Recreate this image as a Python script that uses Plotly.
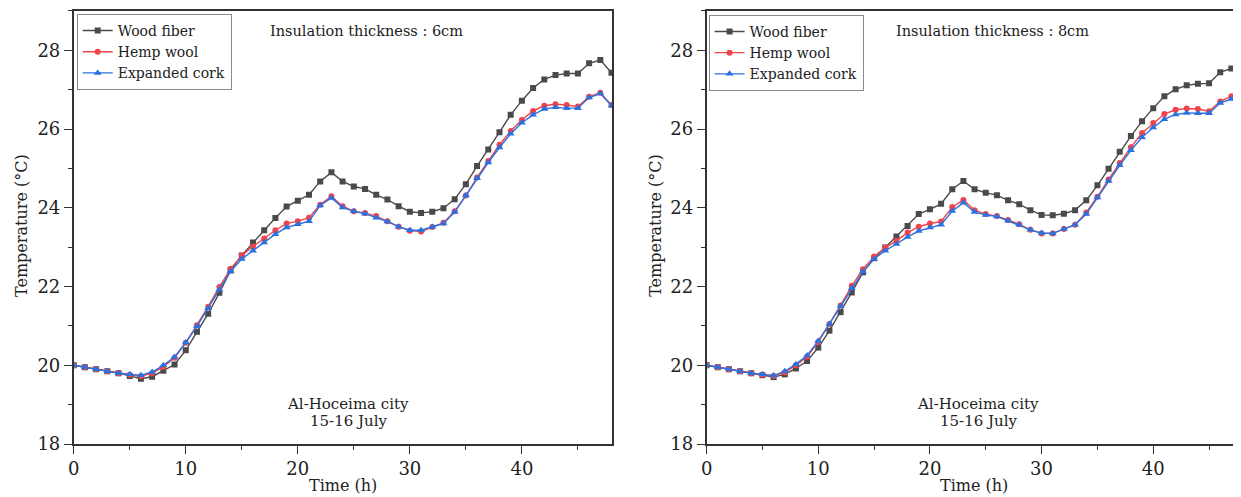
import plotly.graph_objects as go

hours = list(range(49))

# Insulation thickness 6 cm
wood_6 = [20.0, 19.95, 19.9, 19.85, 19.8, 19.73, 19.66, 19.71, 19.86, 20.02,
          20.38, 20.85, 21.31, 21.84, 22.41, 22.79, 23.12, 23.43, 23.74, 24.03,
          24.18, 24.33, 24.67, 24.9, 24.67, 24.54, 24.48, 24.33, 24.21, 24.04,
          23.9, 23.87, 23.9, 23.99, 24.22, 24.6, 25.06, 25.48, 25.92, 26.36,
          26.72, 27.04, 27.26, 27.37, 27.41, 27.41, 27.67, 27.75, 27.43]
hemp_6 = [20.0, 19.95, 19.9, 19.85, 19.8, 19.76, 19.72, 19.8, 19.96, 20.19,
          20.57, 21.02, 21.49, 21.99, 22.45, 22.79, 23.02, 23.22, 23.43, 23.6,
          23.66, 23.75, 24.08, 24.29, 24.04, 23.91, 23.87, 23.79, 23.66, 23.52,
          23.42, 23.4, 23.51, 23.62, 23.91, 24.31, 24.77, 25.19, 25.6, 25.95,
          26.23, 26.46, 26.59, 26.63, 26.61, 26.57, 26.82, 26.92, 26.61]
cork_6 = [20.0, 19.95, 19.9, 19.85, 19.8, 19.77, 19.75, 19.83, 20.0, 20.21,
          20.58, 20.99, 21.45, 21.92, 22.39, 22.7, 22.91, 23.12, 23.33, 23.5,
          23.58, 23.66, 24.06, 24.25, 24.01, 23.91, 23.85, 23.75, 23.65, 23.52,
          23.43, 23.43, 23.51, 23.6, 23.89, 24.31, 24.75, 25.15, 25.53, 25.88,
          26.16, 26.36, 26.51, 26.55, 26.53, 26.53, 26.8, 26.9, 26.59]

# Insulation thickness 8 cm
wood_8 = [20.0, 19.95, 19.9, 19.85, 19.8, 19.75, 19.7, 19.77, 19.92, 20.11,
          20.45, 20.88, 21.35, 21.85, 22.36, 22.72, 22.99, 23.27, 23.54, 23.84,
          23.96, 24.1, 24.47, 24.68, 24.47, 24.38, 24.32, 24.19, 24.09, 23.94,
          23.82, 23.81, 23.85, 23.94, 24.19, 24.57, 24.99, 25.42, 25.82, 26.2,
          26.53, 26.83, 27.01, 27.11, 27.15, 27.16, 27.44, 27.54, 27.3]
hemp_8 = [20.0, 19.95, 19.9, 19.85, 19.8, 19.76, 19.73, 19.82, 20.0, 20.22,
          20.59, 21.05, 21.52, 22.02, 22.44, 22.76, 22.99, 23.16, 23.37, 23.52,
          23.6, 23.65, 24.02, 24.2, 23.94, 23.84, 23.79, 23.69, 23.58, 23.44,
          23.35, 23.35, 23.46, 23.57, 23.88, 24.28, 24.72, 25.14, 25.54, 25.9,
          26.15, 26.38, 26.49, 26.52, 26.51, 26.45, 26.7, 26.83, 26.6]
cork_8 = [20.0, 19.95, 19.9, 19.85, 19.8, 19.77, 19.74, 19.85, 20.03, 20.25,
          20.62, 21.05, 21.5, 21.96, 22.38, 22.7, 22.91, 23.08, 23.26, 23.41,
          23.5, 23.57, 23.92, 24.13, 23.89, 23.82, 23.78, 23.67, 23.57, 23.44,
          23.36, 23.35, 23.46, 23.57, 23.84, 24.26, 24.68, 25.08, 25.46, 25.79,
          26.04, 26.25, 26.37, 26.41, 26.4, 26.4, 26.66, 26.76, 26.58]

series_names = ["Wood fiber", "Hemp wool", "Expanded cork"]
colors = ["#4a4a4a", "#f0434a", "#2a72e0"]
symbols = ["square", "circle", "triangle-up"]
msizes = [6, 6, 7]

titles = ["Insulation thickness : 6cm", "Insulation thickness : 8cm"]
place_lines = ["Al-Hoceima city", "15-16 July"]
x_title = "Time (h)"
y_title = "Temperature (°C)"

FONT = "DejaVu Serif"
OFF_X = 11
W, H = 1241 - 8, 497

fig = go.Figure()

panels = [
    ([wood_6, hemp_6, cork_6], "x", "y", "legend"),
    ([wood_8, hemp_8, cork_8], "x2", "y2", "legend2"),
]
for data, xa, ya, lg in panels:
    for name, vals, c, s, ms in zip(series_names, data, colors, symbols, msizes):
        fig.add_trace(go.Scatter(
            x=hours, y=vals, name=name, mode="lines+markers",
            line=dict(color=c, width=1.4),
            marker=dict(symbol=s, size=ms, color=c),
            xaxis=xa, yaxis=ya, legend=lg,
        ))


def px_x(p):
    return (p - OFF_X) / W


def px_y(p):
    # empirical page -> figure mapping of the viewer
    fy = (p - 6.1) / 0.984
    return 1 - fy / H


axis_common = dict(
    showgrid=False, zeroline=False, showline=True, linecolor="#333333",
    linewidth=1.6, ticks="outside", ticklen=8, tickwidth=1.4,
    tickcolor="#333333",
    tickfont=dict(family=FONT, size=18, color="#222222"),
)
minor_x = dict(dtick=5, ticklen=4, ticks="outside", tickcolor="#333333")
minor_y = dict(dtick=1, ticklen=4, ticks="outside", tickcolor="#333333")

left_dom = [px_x(71), px_x(612)]
right_dom = [px_x(707), 1.0]
right_end = (W - (707 - OFF_X)) / 11.22
y_dom = [px_y(444), px_y(9)]

legend_common = dict(
    xanchor="left", yanchor="top", bgcolor="white", bordercolor="#8a8a8a",
    borderwidth=1, font=dict(family=FONT, size=14, color="#222222"),
    tracegroupgap=0, itemwidth=30,
)

fig.update_layout(
    width=W, height=H,
    margin=dict(l=0, r=0, t=0, b=0),
    paper_bgcolor="white", plot_bgcolor="white",
    font=dict(family=FONT, color="#222222"),
    xaxis=dict(domain=left_dom, range=[0, 48.05], dtick=10, tick0=0,
               mirror=True, anchor="y", minor=minor_x, **axis_common),
    yaxis=dict(domain=y_dom, range=[18, 29], dtick=2, tick0=18,
               mirror=True, anchor="x", minor=minor_y, **axis_common),
    xaxis2=dict(domain=right_dom, range=[0, right_end], dtick=10, tick0=0,
                mirror=True, anchor="y2", minor=minor_x, **axis_common),
    yaxis2=dict(domain=y_dom, range=[18, 29], dtick=2, tick0=18,
                mirror=False, anchor="x2", minor=minor_y, **axis_common),
    legend=dict(x=px_x(74), y=px_y(12), **legend_common),
    legend2=dict(x=px_x(709), y=px_y(13), **legend_common),
    showlegend=True,
)

ann = []
for t, cx in [(titles[0], 365), (titles[1], 994)]:
    ann.append(dict(text=t, x=px_x(cx), y=px_y(29), xref="paper", yref="paper",
                    showarrow=False, xanchor="center", yanchor="middle",
                    font=dict(family=FONT, size=14.5, color="#222222")))
for cx in [347, 980]:
    ann.append(dict(text=place_lines[0], x=px_x(cx), y=px_y(404), xref="paper", yref="paper",
                    showarrow=False, xanchor="center", yanchor="middle",
                    font=dict(family=FONT, size=15, color="#222222")))
    ann.append(dict(text=place_lines[1], x=px_x(cx), y=px_y(421), xref="paper", yref="paper",
                    showarrow=False, xanchor="center", yanchor="middle",
                    font=dict(family=FONT, size=15, color="#222222")))
for cx in [342, 976]:
    ann.append(dict(text=x_title, x=px_x(cx), y=px_y(486), xref="paper", yref="paper",
                    showarrow=False, xanchor="center", yanchor="middle",
                    font=dict(family=FONT, size=16, color="#222222")))
for cx in [19, 656]:
    ann.append(dict(text=y_title, x=px_x(cx), y=px_y(224), xref="paper", yref="paper",
                    showarrow=False, xanchor="center", yanchor="middle", textangle=-90,
                    font=dict(family=FONT, size=16, color="#222222")))
fig.update_layout(annotations=ann)

fig.write_html("out.html")
